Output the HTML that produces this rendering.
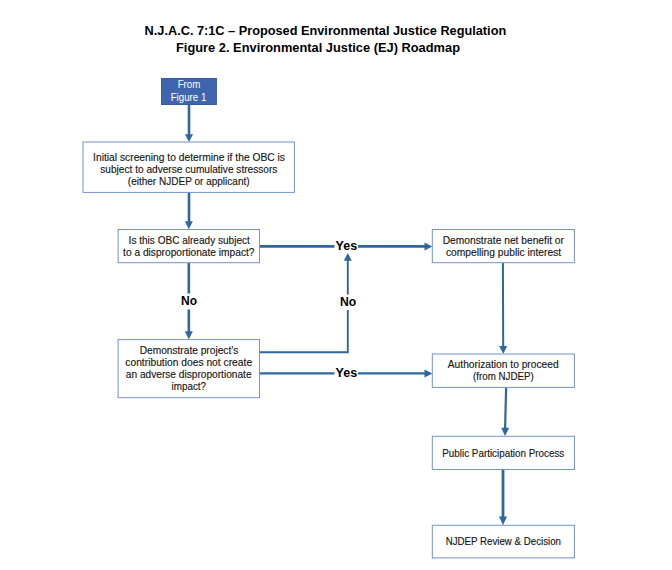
<!DOCTYPE html>
<html><head><meta charset="utf-8">
<style>
html,body{margin:0;padding:0;background:#fff;}
svg{display:block;}
text{font-family:"Liberation Sans",sans-serif;}
.t{font-size:10.8px;fill:#161616;stroke:#161616;stroke-width:0.15;}
.b{font-weight:bold;fill:#000;}
.bx{fill:#fff;stroke:#7391d3;stroke-width:1;}
.ln{stroke:#2e679f;fill:none;}
.hd{fill:#2e679f;}
</style></head>
<body>
<svg width="672" height="570" viewBox="0 0 672 570">
<rect width="672" height="570" fill="#fff"/>
<!-- title -->
<text class="b" font-size="13" x="144.6" y="34.8" textLength="361.6" lengthAdjust="spacingAndGlyphs">N.J.A.C. 7:1C – Proposed Environmental Justice Regulation</text>
<text class="b" font-size="13" x="176" y="51.8" textLength="284" lengthAdjust="spacingAndGlyphs">Figure 2. Environmental Justice (EJ) Roadmap</text>

<!-- connectors -->
<g class="ln">
<line x1="189" y1="104" x2="189" y2="135" stroke-width="2.6"/>
<line x1="189" y1="192.5" x2="189" y2="222" stroke-width="2.6"/>
<line x1="188.8" y1="263" x2="188.8" y2="293.5" stroke-width="2.6"/>
<line x1="188.8" y1="309.5" x2="188.8" y2="332" stroke-width="2.6"/>
<line x1="260" y1="246.4" x2="334.5" y2="246.4" stroke-width="2.8"/>
<line x1="358" y1="246.4" x2="425" y2="246.4" stroke-width="2.8"/>
<line x1="260" y1="373.3" x2="334.5" y2="373.3" stroke-width="2.2"/>
<line x1="358" y1="373.3" x2="425" y2="373.3" stroke-width="2.2"/>
<line x1="503" y1="470" x2="503" y2="517.5" stroke-width="2.8"/>
<polyline points="260,352.3 347.8,352.3 347.8,310" stroke-width="1.9"/>
<line x1="347.8" y1="294.5" x2="347.8" y2="260" stroke-width="1.9"/>
<line x1="506.1" y1="387.5" x2="505.1" y2="428.5" stroke-width="2.2"/>
<line x1="502.9" y1="263" x2="503.2" y2="347" stroke-width="2"/>
</g>
<!-- arrow heads -->
<g class="hd">
<polygon points="185,134.2 193,134.2 189,142"/>
<polygon points="184.8,221.2 192.8,221.2 188.8,229.3"/>
<polygon points="184.8,331.3 192.8,331.3 188.8,339.5"/>
<polygon points="424.5,242.4 424.5,250.4 432.3,246.4"/>
<polygon points="424.5,369.4 424.5,377.4 432.3,373.4"/>
<polygon points="343.8,260.8 351.8,260.8 347.8,253"/>
<polygon points="499.2,346 507.2,346 503.2,354"/>
<polygon points="501.2,427.7 509.2,427.7 505,436"/>
<polygon points="499,516.6 507,516.6 503,525.2"/>
</g>

<!-- boxes -->
<rect x="161.5" y="78.5" width="54.9" height="26" fill="#4065af" stroke="#3659a6" stroke-width="1"/>
<rect class="bx" x="83.0" y="142.0" width="211.4" height="50.4"/>
<rect class="bx" x="118.1" y="229.5" width="141.4" height="33.2"/>
<rect class="bx" x="118.1" y="339.6" width="141.4" height="58.1"/>
<rect class="bx" x="432.3" y="229.5" width="142.1" height="33.2"/>
<rect class="bx" x="432.3" y="354.0" width="142.1" height="33.4"/>
<rect class="bx" x="432.3" y="436.3" width="142.1" height="33.2"/>
<rect class="bx" x="432.3" y="525.3" width="142.1" height="32.6"/>

<!-- box text -->
<g font-size="10.5" fill="#fff">
<text x="177.7" y="88.4" textLength="22.6" lengthAdjust="spacingAndGlyphs">From</text>
<text x="170.7" y="101" textLength="35.6" lengthAdjust="spacingAndGlyphs">Figure 1</text>
</g>
<g class="t">
<text x="93.1" y="161.3" textLength="191.9" lengthAdjust="spacingAndGlyphs">Initial screening to determine if the OBC is</text>
<text x="100.3" y="173.1" textLength="177.1" lengthAdjust="spacingAndGlyphs">subject to adverse cumulative stressors</text>
<text x="127.8" y="185.2" textLength="121.8" lengthAdjust="spacingAndGlyphs">(either NJDEP or applicant)</text>

<text x="128.6" y="244.0" textLength="121.2" lengthAdjust="spacingAndGlyphs">Is this OBC already subject</text>
<text x="123.1" y="255.9" textLength="131.4" lengthAdjust="spacingAndGlyphs">to a disproportionate impact?</text>

<text x="139.7" y="354.1" textLength="98.7" lengthAdjust="spacingAndGlyphs">Demonstrate project’s</text>
<text x="125.3" y="365.9" textLength="126.8" lengthAdjust="spacingAndGlyphs">contribution does not create</text>
<text x="125.8" y="378.3" textLength="125.8" lengthAdjust="spacingAndGlyphs">an adverse disproportionate</text>
<text x="171.6" y="390.1" textLength="34.4" lengthAdjust="spacingAndGlyphs">impact?</text>

<text x="442.7" y="244.1" textLength="121.3" lengthAdjust="spacingAndGlyphs">Demonstrate net benefit or</text>
<text x="445.9" y="255.8" textLength="115.3" lengthAdjust="spacingAndGlyphs">compelling public interest</text>

<text x="447.8" y="368.2" textLength="110.8" lengthAdjust="spacingAndGlyphs">Authorization to proceed</text>
<text x="473" y="380.2" textLength="60.7" lengthAdjust="spacingAndGlyphs">(from NJDEP)</text>

<text x="442.3" y="456.7" textLength="122" lengthAdjust="spacingAndGlyphs">Public Participation Process</text>
<text x="445.7" y="545.1" textLength="115.3" lengthAdjust="spacingAndGlyphs">NJDEP Review &amp; Decision</text>
</g>

<!-- labels -->
<g class="b" font-size="12">
<text x="335.6" y="250.4" textLength="21.6" lengthAdjust="spacingAndGlyphs">Yes</text>
<text x="335.6" y="376.9" textLength="21.6" lengthAdjust="spacingAndGlyphs">Yes</text>
<text x="340" y="305.6" textLength="16.2" lengthAdjust="spacingAndGlyphs">No</text>
<text x="181" y="304.6" textLength="16" lengthAdjust="spacingAndGlyphs">No</text>
</g>
</svg>
</body></html>
